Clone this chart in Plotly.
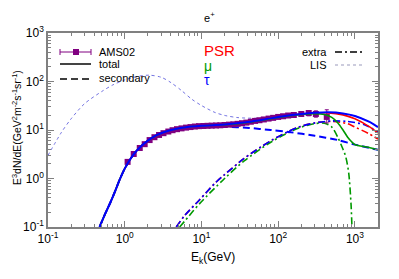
import plotly.graph_objects as go

# ---------------- data ----------------
ams_E = [1.09, 1.31, 1.57, 1.82, 2.11, 2.44, 2.8, 3.2, 3.7, 4.2, 4.8, 5.5, 6.3, 7.2, 8.2, 9.3,
         10.6, 12, 13.6, 15.5, 17.6, 20, 22.8, 26, 29.6, 33.8, 38.5, 44, 50, 57, 65, 75, 86,
         100, 116, 135, 160, 200, 250, 310, 430]
ams_v = [2.2, 3.2, 4.25, 5.1, 6.2, 7.1, 7.9, 8.6, 9.3, 9.9, 10.4, 10.8, 11.2, 11.5, 11.8, 12.0,
         12.1, 12.2, 12.3, 12.4, 12.5, 12.7, 12.9, 13.1, 13.4, 13.8, 14.2, 14.8, 15.4, 15.9, 16.5,
         17.2, 17.8, 18.6, 19.2, 19.9, 20.4, 21.4, 22.4, 21.4, 18.6]
ams_err_up = [0.15, 0.15, 0.2, 0.2, 0.25, 0.25, 0.3, 0.3, 0.3, 0.3, 0.3, 0.3, 0.3, 0.3, 0.3, 0.3,
              0.3, 0.3, 0.3, 0.35, 0.35, 0.4, 0.4, 0.4, 0.5, 0.5, 0.6, 0.6, 0.7, 0.8, 0.9, 1.0,
              1.1, 1.3, 1.5, 1.7, 2.0, 2.3, 2.8, 3.4, 7.5]
ams_err_dn = [0.15, 0.15, 0.2, 0.2, 0.25, 0.25, 0.3, 0.3, 0.3, 0.3, 0.3, 0.3, 0.3, 0.3, 0.3, 0.3,
              0.3, 0.3, 0.3, 0.35, 0.35, 0.4, 0.4, 0.4, 0.5, 0.5, 0.6, 0.6, 0.7, 0.8, 0.9, 1.0,
              1.1, 1.3, 1.5, 1.7, 2.0, 2.3, 2.8, 3.0, 4.6]

# total flux, tau model (blue)
tot_tau_E = [0.47, 0.55, 0.65, 0.75, 0.86, 1.0, 1.2, 1.4, 1.8, 2.6, 4, 6, 10, 20, 40, 70,
             100, 150, 200, 300, 450, 700, 1000, 1500, 2000]
tot_tau_v = [0.1, 0.18, 0.32, 0.55, 0.95, 1.6, 2.6, 3.6, 5.3, 7.8, 10, 11.3, 12.2, 13.0, 14.6,
             16.8, 18.5, 20.3, 21.4, 22.6, 23.2, 22.0, 19.5, 15.0, 11.5]
# total flux, pulsar model (red)
tot_psr_E = [0.47, 0.55, 0.65, 0.75, 0.86, 1.0, 1.2, 1.4, 1.8, 2.6, 4, 6, 10, 20, 40, 70,
             100, 150, 200, 300, 450, 700, 1000, 1500, 2000]
tot_psr_v = [0.1, 0.18, 0.32, 0.55, 0.95, 1.6, 2.6, 3.6, 5.3, 7.8, 10, 11.3, 12.2, 13.0, 14.6,
             16.8, 18.5, 20.2, 21.3, 22.4, 22.6, 20.5, 17.0, 12.0, 8.7]
# total flux, muon model (green)
tot_mu_E = [0.47, 0.55, 0.65, 0.75, 0.86, 1.0, 1.2, 1.4, 1.8, 2.6, 4, 6, 10, 20, 40, 70,
            100, 150, 200, 300, 400, 500, 600, 700, 800, 900, 1000, 1500, 2000]
tot_mu_v = [0.1, 0.18, 0.32, 0.55, 0.95, 1.6, 2.6, 3.6, 5.3, 7.8, 10, 11.3, 12.2, 12.9, 14.3,
            16.4, 18.2, 20.0, 21.0, 21.6, 20.8, 18.2, 14.0, 10.0, 7.2, 5.8, 5.0, 4.4, 3.9]

# secondary positrons
sec_E = [0.47, 0.55, 0.65, 0.75, 0.86, 1.0, 1.2, 1.4, 1.8, 2.6, 4, 6, 10, 20, 42, 80,
         137, 300, 600, 1000, 2000]
sec_v = [0.1, 0.18, 0.32, 0.55, 0.95, 1.6, 2.6, 3.6, 5.3, 7.8, 10, 11.2, 11.9, 11.7, 11.0,
         10.0, 9.1, 7.6, 6.2, 5.0, 3.9]

# extra source components
ext_tau_E = [4.7, 6, 9.4, 15, 20, 36, 60, 83, 130, 186, 300, 500, 800, 1380, 2000]
ext_tau_v = [0.1, 0.17, 0.36, 0.8, 1.2, 2.6, 4.5, 6.2, 9.0, 11.5, 14.0, 15.4, 15.0, 12.6, 9.0]
ext_psr_E = [4.7, 6, 9.4, 15, 20, 36, 60, 83, 130, 186, 300, 500, 800, 1000, 1500, 2000]
ext_psr_v = [0.1, 0.17, 0.36, 0.8, 1.2, 2.6, 4.5, 6.2, 9.0, 11.5, 14.0, 15.0, 13.5, 11.5, 8.5, 6.5]
ext_mu_E = [5.2, 6, 9.4, 20, 36, 83, 186, 300, 400, 500, 600, 700, 760, 830, 890, 915]
ext_mu_v = [0.1, 0.13, 0.3, 1.0, 2.3, 5.8, 11.0, 13.5, 13.8, 11.5, 7.0, 4.0, 2.8, 1.3, 0.3, 0.1]

# local interstellar spectrum
lis_E = [0.1, 0.15, 0.2, 0.3, 0.5, 0.7, 1.0, 1.5, 2.1, 3.0, 4.0, 5.5, 7.5, 10, 15, 20, 30,
         50, 80, 150, 300, 600, 1000, 2000]
lis_v = [3.0, 9.0, 17, 35, 62, 85, 108, 128, 135, 122, 95, 65, 43, 32, 23, 20, 18, 17.5,
         18.2, 20.6, 22.9, 22.3, 19.7, 11.8]

# tick labels
x_tickvals = [0.1, 1, 10, 100, 1000]
x_ticktext = ["10<sup>-1</sup>", "10<sup>0</sup>", "10<sup>1</sup>", "10<sup>2</sup>", "10<sup>3</sup>"]
y_tickvals = [0.1, 1, 10, 100, 1000]
y_ticktext = ["10<sup>-1</sup>", "10<sup>0</sup>", "10<sup>1</sup>", "10<sup>2</sup>", "10<sup>3</sup>"]

RED, GREEN, BLUE, PURPLE = "#ff0000", "#009900", "#0000ff", "#800080"
DASHDOT = "7px,3px,2px,3px"

fig = go.Figure()

def line(x, y, color, dash="solid", width=2):
    fig.add_trace(go.Scatter(x=x, y=y, mode="lines", line=dict(color=color, width=width, dash=dash,
                                                               shape="spline", smoothing=0.8),
                             showlegend=False, hoverinfo="skip"))

line(lis_E, lis_v, "rgba(90,90,220,0.85)", "dot", 1)
line(ext_psr_E, ext_psr_v, RED, DASHDOT, 1.6)
line(ext_mu_E, ext_mu_v, GREEN, DASHDOT, 1.6)
line(ext_tau_E, ext_tau_v, BLUE, DASHDOT, 1.6)
line(sec_E, sec_v, BLUE, "7px,4px", 2)

fig.add_trace(go.Scatter(x=ams_E, y=ams_v, mode="markers",
                         marker=dict(symbol="square", size=6, color=PURPLE),
                         error_y=dict(type="data", array=ams_err_up, arrayminus=ams_err_dn,
                                      color=PURPLE, thickness=1, width=2),
                         showlegend=False, hoverinfo="skip"))

line(tot_psr_E, tot_psr_v, RED, "solid", 1.6)
line(tot_mu_E, tot_mu_v, GREEN, "solid", 1.6)
line(tot_tau_E, tot_tau_v, BLUE, "solid", 2)

# ---------------- layout ----------------
OFF = 8  # page body offset
W, H = 399 - OFF, 279 - OFF
L, R, T = 48 - OFF, 21, 33 - OFF
B = H - T - 194
pw, ph = W - L - R, H - T - B

def px(xp):  # reference pixel -> paper
    return (xp - OFF - L) / pw

def py(yp):
    return (H - B - (yp - OFF)) / ph

axis_common = dict(type="log", showgrid=False, zeroline=False, showline=True,
                   linecolor="#808080", linewidth=1.5, mirror="ticks", ticks="inside",
                   ticklen=6, tickcolor="#808080", tickwidth=1,
                   tickfont=dict(family="Liberation Sans, Arial", size=12, color="black"),
                   minor=dict(ticks="inside", ticklen=3, tickcolor="#808080", dtick="D1",
                              showgrid=False))

fig.update_layout(
    width=W, height=H, margin=dict(l=L, r=R, t=T, b=B),
    paper_bgcolor="white", plot_bgcolor="white", showlegend=False,
    xaxis=dict(range=[-1, 3.301], tickvals=x_tickvals, ticktext=x_ticktext, **axis_common),
    yaxis=dict(range=[-1, 3], tickvals=y_tickvals, ticktext=y_ticktext, **axis_common),
    font=dict(family="Liberation Sans, Arial", color="black"),
)

ann = []
def note(x, y, text, size=11, color="black", xanchor="center", angle=0):
    ann.append(dict(x=px(x), y=py(y), xref="paper", yref="paper", text=text,
                    showarrow=False, xanchor=xanchor, yanchor="middle", textangle=angle,
                    font=dict(size=size, color=color)))

note(209, 17, "e<sup>+</sup>", 11)
note(213, 258, "E<sub>k</sub>(GeV)", 12)
note(16, 128, "E<sup>3</sup>dN/dE(GeV<sup>2</sup>m<sup>-2</sup>s<sup>-1</sup>sr<sup>-1</sup>)",
     10.5, angle=-90)
for yy, t in [(52, "AMS02"), (64, "total"), (78, "secondary")]:
    note(97, yy, t, 11, xanchor="left")
for yy, t in [(52, "extra"), (65, "LIS")]:
    note(329, yy, t, 11, xanchor="right")
note(202, 50, "PSR", 15, RED, "left")
note(202, 66, "μ", 14, GREEN, "left")
note(202, 80, "τ", 14, BLUE, "left")
fig.update_layout(annotations=ann)

shapes = []
def seg(x0, y0, x1, y1, color, dash="solid", width=1.5):
    shapes.append(dict(type="line", xref="paper", yref="paper", x0=px(x0), y0=py(y0),
                       x1=px(x1), y1=py(y1), line=dict(color=color, width=width, dash=dash)))

seg(60, 52, 91, 52, PURPLE, width=1)
seg(60, 49, 60, 55, PURPLE, width=1)
seg(91, 49, 91, 55, PURPLE, width=1)
shapes.append(dict(type="rect", xref="paper", yref="paper", x0=px(73), x1=px(79),
                   y0=py(55), y1=py(49), fillcolor=PURPLE, line=dict(width=0)))
seg(60, 64, 91, 64, "#444444", width=2)
seg(60, 79, 91, 79, "black", dash="7px,4px", width=1.5)
seg(335, 52, 365, 52, "black", dash=DASHDOT, width=1.5)
seg(335, 65, 365, 65, "#9999bb", dash="dot", width=1)
fig.update_layout(shapes=shapes)

fig.write_html("out.html")
